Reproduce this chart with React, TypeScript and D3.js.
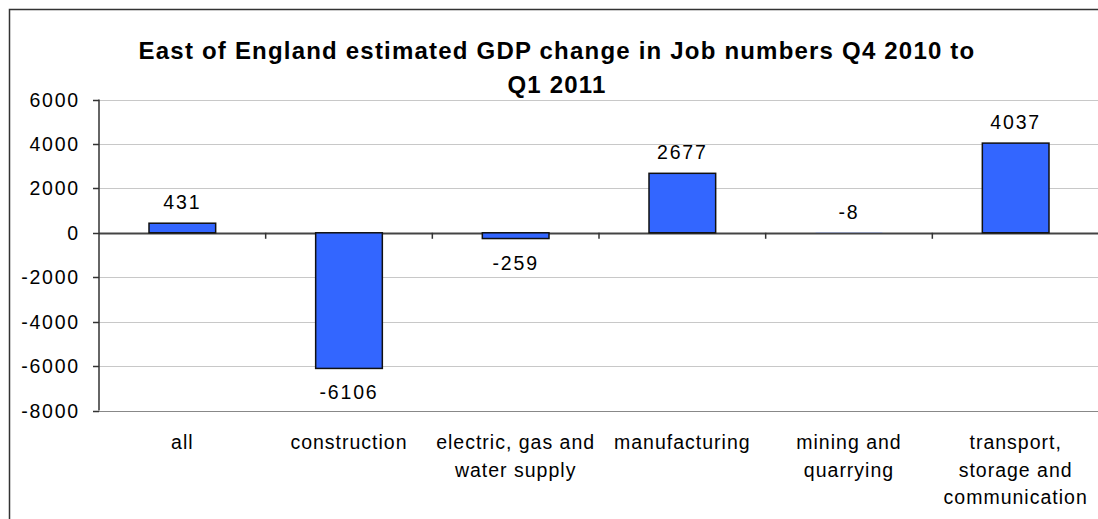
import React from "react";
import * as d3 from "d3";

const categories: string[][] = [
  ["all"],
  ["construction"],
  ["electric, gas and", "water supply"],
  ["manufacturing"],
  ["mining and", "quarrying"],
  ["transport,", "storage and", "communication"],
];
const values: number[] = [431, -6106, -259, 2677, -8, 4037];
const yTicks: number[] = [6000, 4000, 2000, 0, -2000, -4000, -6000, -8000];
const titleLines: string[] = [
  "East of England estimated GDP change in Job numbers Q4 2010 to",
  "Q1 2011",
];

export default function App() {
  const W = 1098;
  const H = 519;
  const left = 99;
  const right = 1099;
  const top = 99.5;
  const bottom = 410.5;
  const keys = categories.map((_, i) => String(i));
  const x = d3.scaleBand<string>().domain(keys).range([left, right]).paddingInner(0.6).paddingOuter(0.3);
  const xb = d3.scaleBand<string>().domain(keys).range([left, right]);
  const y = d3.scaleLinear().domain([-8000, 6000]).range([bottom, top]);
  const font = "'Liberation Sans', Arial, sans-serif";
  const fs = 19.5;
  const ls = 1;
  return (
    <svg width={W} height={H} style={{ position: "absolute", left: 0, top: 0, background: "#fff" }}>
      <rect x={9.5} y={9.5} width={1100} height={520} fill="#fff" stroke="#333" strokeWidth={1.5} />
      {titleLines.map((t, i) => (
        <text key={i} x={557} y={59 + i * 34} textAnchor="middle" fontFamily={font} fontWeight="bold" fontSize={24} letterSpacing={1.2} fill="#000">
          {t}
        </text>
      ))}
      {yTicks.map((t) => (
        <g key={t}>
          <line x1={left} x2={right} y1={Math.round(y(t)) + 0.5} y2={Math.round(y(t)) + 0.5}
            stroke={t === 0 ? "#444" : t === -8000 ? "#888" : "#c8c8c8"} strokeWidth={t === 0 ? 2 : 1.2} />
          <line x1={left - 6} x2={left} y1={Math.round(y(t)) + 0.5} y2={Math.round(y(t)) + 0.5} stroke="#333" strokeWidth={1.5} />
          <text x={80} y={y(t) + 7} textAnchor="end" fontFamily={font} fontSize={fs} letterSpacing={1.8} fill="#000">
            {t}
          </text>
        </g>
      ))}
      <line x1={left} x2={left} y1={top} y2={bottom} stroke="#333" strokeWidth={1.5} />
      {keys.slice(1).map((k) => (
        <line key={k} x1={xb(k)!} x2={xb(k)!} y1={y(0)} y2={y(0) + 6} stroke="#333" strokeWidth={1.5} />
      ))}
      {values.map((v, i) => {
        const k = keys[i];
        const y0 = y(Math.max(0, v));
        const y1 = y(Math.min(0, v));
        const h = y1 - y0;
        return (
          <rect key={k} x={x(k)!} y={y0} width={x.bandwidth()} height={h}
            fill="#3366ff" stroke={h < 1 ? "none" : "#111"} strokeWidth={1.5} />
        );
      })}
      {values.map((v, i) => {
        const k = keys[i];
        const cx = x(k)! + x.bandwidth() / 2;
        const below = v < 0 && Math.abs(v) >= 100;
        const ly = below ? y(v) + 31 : y(Math.max(v, 0)) - 14;
        return (
          <text key={k} x={cx} y={ly} textAnchor="middle" fontFamily={font} fontSize={fs} letterSpacing={1.8} fill="#000">
            {v}
          </text>
        );
      })}
      {categories.map((lines, i) => {
        const k = keys[i];
        const cx = xb(k)! + xb.bandwidth() / 2;
        return (
          <text key={k} textAnchor="middle" fontFamily={font} fontSize={fs} letterSpacing={ls} fill="#000">
            {lines.map((l, j) => (
              <tspan key={j} x={cx} y={449 + j * 27.5}>{l}</tspan>
            ))}
          </text>
        );
      })}
    </svg>
  );
}
